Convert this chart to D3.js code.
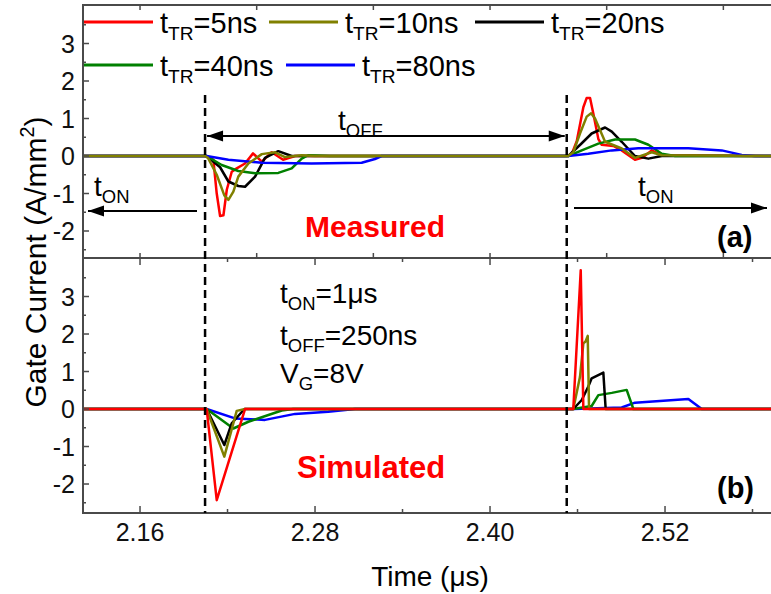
<!DOCTYPE html>
<html>
<head>
<meta charset="utf-8">
<script src="https://d3js.org/d3.v7.min.js"></script>
<style>
  body { margin: 0; background: #fff; }
  svg { display: block; font-family: Arial, "Liberation Sans", sans-serif; }
  .frame { fill: none; stroke: #4a4a4a; stroke-width: 2px; }
  .tick { stroke: #4a4a4a; stroke-width: 1.5px; }
  .ticklabel { font-size: 25px; fill: #111; }
  .trace { fill: none; stroke-width: 2.5px; stroke-linejoin: round; }
  .switch { stroke: #000; stroke-width: 2.5px; stroke-dasharray: 8,5; }
  .arrow { stroke: #000; stroke-width: 2px; }
</style>
</head>
<body>
<div id="chart"></div>

<script>
// Gate current for different transition times, measured (a) and simulated (b)

const transLabels = ["5ns", "10ns", "20ns", "40ns", "80ns"];
const traceColors = ["#ff0000", "#808000", "#000000", "#008000", "#0000ff"];

// tick values
const xMajorTicks = [2.16, 2.28, 2.40, 2.52];
const xMinorTicks = [2.22, 2.34, 2.46, 2.58];
const topPanelTicks = [2.16, 2.24, 2.32, 2.40, 2.48, 2.56];
const yMajorTicks = [-2, -1, 0, 1, 2, 3];
const yMinorTicks = [-2.5, -1.5, -0.5, 0.5, 1.5, 2.5, 3.5];

// gate switching instants (dashed lines), us
const switchTimes = [2.2046, 2.4526];

// measured traces [time (us), current (A/mm2)]
const meas5 = [[2.1209, 0], [2.2046, 0], [2.2103, -0.1], [2.2126, -1.0], [2.2149, -1.6], [2.2172, -1.58],
  [2.2195, -0.9], [2.2229, -0.42], [2.2263, -0.33], [2.2320, -0.2], [2.2375, 0.07], [2.2435, -0.15],
  [2.2503, 0.1], [2.2581, -0.1], [2.2663, 0], [2.4526, 0], [2.4560, 0.05], [2.4595, 0.4], [2.4640, 1.3],
  [2.4663, 1.55], [2.4686, 1.55], [2.4710, 1.1], [2.4743, 0.45], [2.4766, 0.3], [2.4846, 0.27],
  [2.4903, 0.15], [2.4994, -0.1], [2.5040, -0.05], [2.5109, 0.15], [2.5178, 0.02], [2.6009, 0]];
const meas10 = [[2.1209, 0], [2.2046, 0], [2.2066, -0.05], [2.2126, -0.5], [2.2178, -1.05], [2.2206, -1.17],
  [2.2240, -0.95], [2.2274, -0.55], [2.2343, -0.2], [2.2435, 0.05], [2.2526, 0.1], [2.2594, -0.03],
  [2.2709, 0.02], [2.2800, 0], [2.4537, 0], [2.4571, 0.1], [2.4617, 0.6], [2.4663, 1.05], [2.4693, 1.14],
  [2.4720, 1.0], [2.4789, 0.38], [2.4903, 0.2], [2.4994, -0.05], [2.5109, 0.1], [2.5178, 0.02], [2.6009, 0]];
const meas20 = [[2.1209, 0], [2.2057, 0], [2.2149, -0.3], [2.2206, -0.68], [2.2274, -0.8], [2.2320, -0.82],
  [2.2389, -0.55], [2.2457, -0.05], [2.2548, 0.13], [2.2640, 0], [2.4537, 0], [2.4629, 0.34],
  [2.4697, 0.6], [2.4789, 0.76], [2.4835, 0.65], [2.4903, 0.38], [2.4994, 0], [2.5086, -0.07],
  [2.5178, 0], [2.6009, 0]];
const meas40 = [[2.1209, 0], [2.2057, 0], [2.2160, -0.24], [2.2274, -0.4], [2.2389, -0.46], [2.2548, -0.45],
  [2.2640, -0.33], [2.2709, -0.07], [2.2752, 0.02], [2.2900, 0], [2.4537, 0], [2.4629, 0.15],
  [2.4743, 0.33], [2.4857, 0.44], [2.4994, 0.44], [2.5086, 0.3], [2.5178, 0.06], [2.5269, 0], [2.6009, 0]];
const meas80 = [[2.1209, 0], [2.2057, 0], [2.2206, -0.1], [2.2435, -0.18], [2.2777, -0.2], [2.3120, -0.18],
  [2.3211, -0.08], [2.3257, 0], [2.4537, 0], [2.4674, 0.06], [2.4835, 0.15], [2.5017, 0.21],
  [2.5360, 0.21], [2.5589, 0.15], [2.5726, 0.03], [2.5817, 0], [2.6009, 0]];

// simulated traces
const sim5 = [[2.1209, 0], [2.2057, 0], [2.2126, -2.43], [2.2320, 0], [2.4571, 0], [2.4622, 3.70],
  [2.4640, 0], [2.6009, 0]];
const sim10 = [[2.1209, 0], [2.2057, 0], [2.2178, -1.27], [2.2263, -0.05], [2.2320, 0], [2.4571, 0],
  [2.4617, 0.86], [2.4640, 1.75], [2.4655, 1.8], [2.4670, 1.95], [2.4679, 0], [2.6009, 0]];
const sim20 = [[2.1209, 0], [2.2057, 0], [2.2178, -0.96], [2.2229, -0.38], [2.2316, 0], [2.4571, 0],
  [2.4629, 0.24], [2.4674, 0.6], [2.4697, 0.82], [2.4777, 0.97], [2.4793, 0], [2.6009, 0]];
const sim40 = [[2.1209, 0], [2.2057, 0], [2.2240, -0.52], [2.2343, -0.34], [2.2526, -0.1], [2.2572, -0.04],
  [2.2650, 0], [2.4571, 0], [2.4697, 0.08], [2.4743, 0.37], [2.4835, 0.43], [2.4937, 0.51],
  [2.4983, 0], [2.6009, 0]];
const sim80 = [[2.1209, 0], [2.2057, 0], [2.2251, -0.25], [2.2457, -0.29], [2.2663, -0.13], [2.2891, -0.07],
  [2.3074, 0], [2.4571, 0], [2.4903, 0.04], [2.4994, 0.17], [2.5360, 0.27], [2.5452, 0], [2.6009, 0]];

const measured = [meas5, meas10, meas20, meas40, meas80];
const simulated = [sim5, sim10, sim20, sim40, sim80];

// layout
const width = 771, height = 594;
const plotLeft = 83, plotRight = 783, plotTop = 5, plotMid = 258, plotBottom = 513;

const svg = d3.select("#chart").append("svg")
  .attr("width", width)
  .attr("height", height);

const x = d3.scaleLinear().domain([2.1209, 2.6009]).range([plotLeft, plotRight]);
const yTop = d3.scaleLinear().domain([-2.72, 4.027]).range([plotMid, plotTop]);
const yBot = d3.scaleLinear().domain([-2.773, 4.027]).range([plotBottom, plotMid]);

// clip paths per panel
const defs = svg.append("defs");
defs.append("clipPath").attr("id", "clipTop").append("rect")
  .attr("x", plotLeft).attr("y", plotTop).attr("width", plotRight - plotLeft).attr("height", plotMid - plotTop);
defs.append("clipPath").attr("id", "clipBot").append("rect")
  .attr("x", plotLeft).attr("y", plotMid).attr("width", plotRight - plotLeft).attr("height", plotBottom - plotMid);

// helper for text with sub/superscripts
function richText(g, px, py, parts, size) {
  const t = g.append("text").attr("x", px).attr("y", py).attr("font-size", size);
  let shift = 0;
  parts.forEach(p => {
    const str = typeof p === "string" ? p : p[0];
    const kind = typeof p === "string" ? null : p[1];
    const target = kind === "sub" ? size * 0.25 : kind === "sup" ? -size * 0.4 : 0;
    t.append("tspan")
      .attr("dy", target - shift)
      .attr("font-size", kind ? size * 0.66 : size)
      .text(str);
    shift = target;
  });
  return t;
}

// traces
function drawTraces(data, yScale, clip, order) {
  const line = d3.line().x(d => x(d[0])).y(d => yScale(d[1]));
  const g = svg.append("g").attr("clip-path", `url(#${clip})`);
  order.forEach(i => {
    g.append("path")
      .attr("class", "trace")
      .attr("stroke", traceColors[i])
      .attr("d", line(data[i]));
  });
}

drawTraces(measured, yTop, "clipTop", [0, 2, 3, 4, 1]);
drawTraces(simulated, yBot, "clipBot", [4, 3, 2, 1, 0]);

// frames
svg.append("rect").attr("class", "frame")
  .attr("x", plotLeft).attr("y", plotTop).attr("width", plotRight - plotLeft).attr("height", plotBottom - plotTop);
svg.append("line").attr("class", "frame")
  .attr("x1", plotLeft).attr("x2", plotRight).attr("y1", plotMid).attr("y2", plotMid);

// y ticks (both panels)
[yTop, yBot].forEach(ys => {
  svg.append("g").selectAll("line").data(yMajorTicks).enter().append("line")
    .attr("class", "tick")
    .attr("x1", plotLeft).attr("x2", plotLeft + 6)
    .attr("y1", d => ys(d)).attr("y2", d => ys(d));
  svg.append("g").selectAll("line").data(yMinorTicks.filter(d => ys(d) > ys.range()[1] + 2)).enter().append("line")
    .attr("class", "tick")
    .attr("x1", plotLeft).attr("x2", plotLeft + 3)
    .attr("y1", d => ys(d)).attr("y2", d => ys(d));
  svg.append("g").selectAll("text").data(yMajorTicks).enter().append("text")
    .attr("class", "ticklabel")
    .attr("x", plotLeft - 8)
    .attr("y", d => ys(d))
    .attr("dy", "0.36em")
    .attr("text-anchor", "end")
    .text(d => d);
});

// x ticks: bottom panel (bottom edge up, divider down)
const xTickG = svg.append("g");
xMajorTicks.forEach(t => {
  xTickG.append("line").attr("class", "tick")
    .attr("x1", x(t)).attr("x2", x(t)).attr("y1", plotBottom).attr("y2", plotBottom - 7);
  xTickG.append("line").attr("class", "tick")
    .attr("x1", x(t)).attr("x2", x(t)).attr("y1", plotMid).attr("y2", plotMid + 7);
});
xMinorTicks.forEach(t => {
  xTickG.append("line").attr("class", "tick")
    .attr("x1", x(t)).attr("x2", x(t)).attr("y1", plotBottom).attr("y2", plotBottom - 4);
  xTickG.append("line").attr("class", "tick")
    .attr("x1", x(t)).attr("x2", x(t)).attr("y1", plotMid).attr("y2", plotMid + 4);
});
// top panel has its own unlabeled ticks
topPanelTicks.forEach(t => {
  xTickG.append("line").attr("class", "tick")
    .attr("x1", x(t)).attr("x2", x(t)).attr("y1", plotTop).attr("y2", plotTop + 5);
  xTickG.append("line").attr("class", "tick")
    .attr("x1", x(t)).attr("x2", x(t)).attr("y1", plotMid).attr("y2", plotMid - 5);
});

svg.append("g").selectAll("text").data(xMajorTicks).enter().append("text")
  .attr("class", "ticklabel")
  .attr("x", d => x(d))
  .attr("y", 541)
  .attr("text-anchor", "middle")
  .text(d => d3.format(".2f")(d));

// axis titles
svg.append("text")
  .attr("x", 430).attr("y", 586)
  .attr("text-anchor", "middle")
  .attr("font-size", 28)
  .text("Time (\u03bcs)");

richText(svg, 0, 0, ["Gate Current (A/mm", ["2", "sup"], ")"], 30)
  .attr("text-anchor", "middle")
  .attr("transform", "translate(46,262) rotate(-90)");

// dashed switching lines
svg.append("g").selectAll("line").data(switchTimes).enter().append("line")
  .attr("class", "switch")
  .attr("x1", d => x(d)).attr("x2", d => x(d))
  .attr("y1", 95).attr("y2", plotBottom);

// arrows
function arrowHead(px, py, dir) {
  svg.append("path")
    .attr("d", `M${px},${py} L${px - dir * 16},${py - 5.5} L${px - dir * 16},${py + 5.5} Z`)
    .attr("fill", "#000");
}
function arrow(x1, x2, py, startHead, endHead) {
  svg.append("line").attr("class", "arrow")
    .attr("x1", x1).attr("x2", x2).attr("y1", py).attr("y2", py);
  if (startHead) arrowHead(x1, py, -1);
  if (endHead) arrowHead(x2, py, 1);
}
arrow(x(switchTimes[0]) + 2, x(switchTimes[1]) - 2, 136, true, true);
arrow(88, 197, 211, true, false);
arrow(574, 767, 208, false, true);

richText(svg, 338, 130, ["t", ["OFF", "sub"]], 28);
richText(svg, 94, 196, ["t", ["ON", "sub"]], 28);
richText(svg, 638, 196, ["t", ["ON", "sub"]], 28);

// panel labels
svg.append("text").attr("x", 305).attr("y", 237)
  .attr("font-size", 30).attr("font-weight", "bold").attr("fill", "#ff0000").text("Measured");
svg.append("text").attr("x", 717).attr("y", 247)
  .attr("font-size", 29).attr("font-weight", "bold").text("(a)");
svg.append("text").attr("x", 297).attr("y", 478)
  .attr("font-size", 31).attr("font-weight", "bold").attr("fill", "#ff0000").text("Simulated");
svg.append("text").attr("x", 717).attr("y", 498)
  .attr("font-size", 29).attr("font-weight", "bold").text("(b)");

// simulation conditions
richText(svg, 280, 303, ["t", ["ON", "sub"], "=1\u03bcs"], 28);
richText(svg, 280, 345, ["t", ["OFF", "sub"], "=250ns"], 28);
richText(svg, 280, 383, ["V", ["G", "sub"], "=8V"], 28);

// legend
const legendPos = [[83, 22], [268, 22], [474, 22], [83, 65], [285, 65]];
transLabels.forEach((lab, i) => {
  const [lx, ly] = legendPos[i];
  svg.append("line")
    .attr("x1", lx + 1).attr("x2", lx + 70).attr("y1", ly).attr("y2", ly)
    .attr("stroke", traceColors[i]).attr("stroke-width", 3);
  richText(svg, lx + 77, ly + 11, ["t", ["TR", "sub"], "=" + lab], 29);
});
</script>
</body>
</html>
